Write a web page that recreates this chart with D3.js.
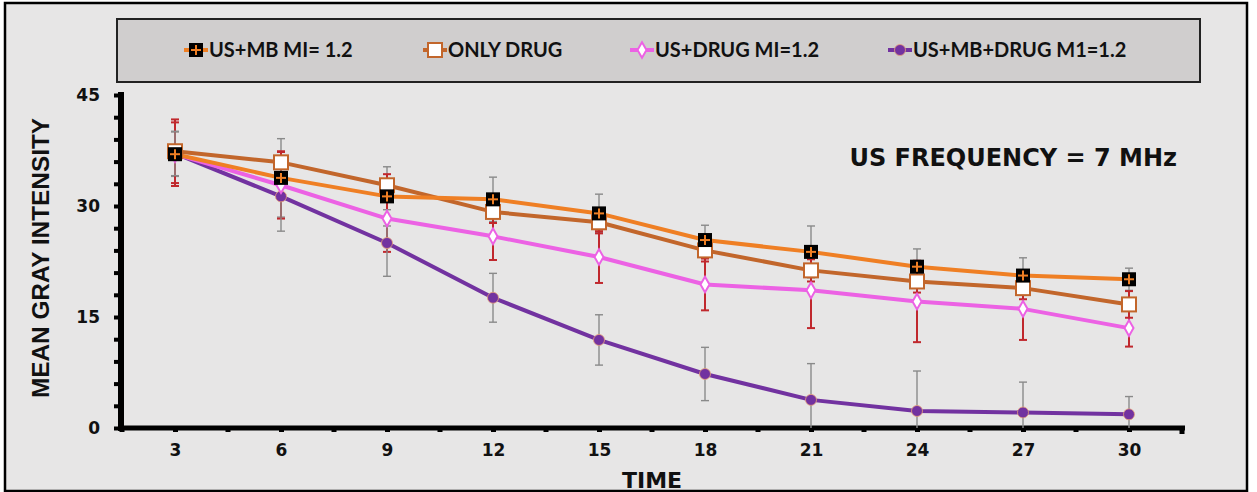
<!DOCTYPE html>
<html>
<head>
<meta charset="utf-8">
<script src="https://cdn.jsdelivr.net/npm/d3@7"></script>
<style>
  body { margin: 0; background: #fff; }
  svg { display: block; }
</style>
</head>
<body>
<svg id="chart" width="1257" height="492"></svg>
<script>
// time points (x categories)
var times = [3, 6, 9, 12, 15, 18, 21, 24, 27, 30];

// series means
var usMb     = [37.0, 33.8, 31.3, 30.9, 29.0, 25.4, 23.8, 21.8, 20.6, 20.1];
var onlyDrug = [37.4, 35.9, 32.8, 29.2, 27.8, 24.0, 21.3, 19.8, 18.9, 16.7];
var usDrug   = [37.0, 32.8, 28.3, 25.9, 23.1, 19.4, 18.6, 17.1, 16.1, 13.5];
var usMbDrug = [37.1, 31.3, 25.0, 17.6, 11.9, 7.3, 3.8, 2.3, 2.1, 1.85];

// error bar half widths
var usMbErr     = [3.0, 5.3, 4.0, 3.0, 2.6, 2.0, 3.5, 2.4, 2.4, 1.5];
var onlyDrugErr = [4.3, 1.5, 1.5, 1.5, 1.5, 1.5, 1.5, 1.5, 1.5, 1.8];
var usDrugErr   = [4.3, 4.5, 4.5, 3.2, 3.5, 3.5, 5.1, 5.5, 4.2, 2.5];
var usMbDrugErr = [3.0, 4.7, 4.5, 3.3, 3.4, 3.6, 4.9, 5.4, 4.1, 2.4];

var seriesNames = ['US+MB MI= 1.2', 'ONLY DRUG', 'US+DRUG MI=1.2', 'US+MB+DRUG M1=1.2'];
var yTicks = [0, 15, 30, 45];

var svg = d3.select('#chart');

var series = [
  {name: seriesNames[0], vals: usMb, err: usMbErr, color: '#EF7F24', errColor: '#8a8a8a', mark: 'plus'},
  {name: seriesNames[1], vals: onlyDrug, err: onlyDrugErr, color: '#C2662B', errColor: '#c0282d', mark: 'square'},
  {name: seriesNames[2], vals: usDrug, err: usDrugErr, color: '#EC62E4', errColor: '#c0282d', mark: 'diamond'},
  {name: seriesNames[3], vals: usMbDrug, err: usMbDrugErr, color: '#7232A0', errColor: '#8a8a8a', mark: 'circle'}
];

var xs = d3.scaleBand().domain(times).range([122, 1182]).padding(0);
var bw = xs.bandwidth();
var cx = function(t) { return xs(t) + bw / 2; };
var ys = d3.scaleLinear().domain([0, 45]).range([428, 95]);

// frame + background
svg.append('rect').attr('x', 5).attr('y', 3).attr('width', 1242).attr('height', 488)
  .attr('fill', '#E7E6E6').attr('stroke', '#000').attr('stroke-width', 2.5);

// legend box
svg.append('rect').attr('x', 117).attr('y', 19).attr('width', 1083).attr('height', 63)
  .attr('fill', '#D0CECE').attr('stroke', '#222').attr('stroke-width', 2);

function drawMarker(g, type, color, x, y) {
  if (type == 'plus') {
    g.append('rect').attr('x', x - 7).attr('y', y - 7).attr('width', 14).attr('height', 14).attr('fill', '#000');
    g.append('line').attr('x1', x - 5).attr('x2', x + 5).attr('y1', y).attr('y2', y).attr('stroke', color).attr('stroke-width', 2);
    g.append('line').attr('x1', x).attr('x2', x).attr('y1', y - 5).attr('y2', y + 5).attr('stroke', color).attr('stroke-width', 2);
  } else if (type == 'square') {
    g.append('rect').attr('x', x - 7).attr('y', y - 7).attr('width', 14).attr('height', 14)
      .attr('fill', '#fff').attr('stroke', color).attr('stroke-width', 2);
  } else if (type == 'diamond') {
    g.append('path').attr('d', d3.symbol().type(d3.symbolDiamond).size(70)())
      .attr('transform', 'translate(' + x + ',' + y + ')')
      .attr('fill', '#fff').attr('stroke', color).attr('stroke-width', 2);
  } else {
    g.append('circle').attr('cx', x).attr('cy', y).attr('r', 5.5)
      .attr('fill', color).attr('stroke', '#e9a27a').attr('stroke-width', 0.8);
  }
}

// legend entries
var legX = [196, 435, 642, 900];
series.forEach(function(s, i) {
  var g = svg.append('g');
  g.append('line').attr('x1', legX[i] - 12).attr('x2', legX[i] + 12).attr('y1', 50).attr('y2', 50)
    .attr('stroke', s.color).attr('stroke-width', 4);
  drawMarker(g, s.mark, s.color, legX[i], 50);
  g.append('text').attr('x', legX[i] + 13).attr('y', 57)
    .attr('font-family', 'Lato, sans-serif').attr('font-weight', 'bold').attr('font-size', 20)
    .attr('fill', '#111').text(s.name);
});

// y axis
var yAxis = svg.append('g').attr('transform', 'translate(121,0)')
  .call(d3.axisLeft(ys).tickValues(d3.range(0, 46, 3)).tickSize(7).tickSizeOuter(0)
    .tickFormat(function(d) { return yTicks.indexOf(d) >= 0 ? d : ''; }));
yAxis.select('.domain').attr('stroke', '#000').attr('stroke-width', 6).attr('d', 'M0,92V431');
yAxis.selectAll('.tick line').attr('stroke', '#000').attr('stroke-width', 4);
yAxis.selectAll('.tick text').attr('x', -21).attr('font-family', 'DejaVu Sans, sans-serif')
  .attr('font-weight', 'bold').attr('font-size', 17).attr('fill', '#111');

// x axis
var xAxis = svg.append('g').attr('transform', 'translate(0,428)')
  .call(d3.axisBottom(d3.scalePoint().domain(times).range([cx(3), cx(30)])).tickSize(4).tickSizeOuter(0));
xAxis.select('.domain').attr('stroke', '#000').attr('stroke-width', 5).attr('d', 'M118,0H1185');
xAxis.selectAll('.tick line').attr('stroke', '#000').attr('stroke-width', 5);
xAxis.selectAll('.tick text').attr('y', 16).attr('font-family', 'DejaVu Sans, sans-serif')
  .attr('font-weight', 'bold').attr('font-size', 17).attr('fill', '#111');
// minor ticks at band edges
xAxis.selectAll('.edge').data(times.concat(['end'])).enter().append('line')
  .attr('x1', function(d) { return d == 'end' ? 1182 : xs(d); })
  .attr('x2', function(d) { return d == 'end' ? 1182 : xs(d); })
  .attr('y1', 0).attr('y2', function(d) { return d == 'end' ? 6 : 4; })
  .attr('stroke', '#000').attr('stroke-width', 5);

// axis titles
svg.append('text').attr('transform', 'translate(49,258) rotate(-90)')
  .attr('text-anchor', 'middle').attr('font-family', 'Liberation Sans Narrow, Liberation Sans, sans-serif')
  .attr('font-weight', 'bold').attr('font-size', 24).attr('textLength', 280).attr('lengthAdjust', 'spacingAndGlyphs')
  .attr('fill', '#111').text('MEAN GRAY INTENSITY');
svg.append('text').attr('x', 652).attr('y', 488).attr('text-anchor', 'middle')
  .attr('font-family', 'DejaVu Sans, sans-serif').attr('font-weight', 'bold').attr('font-size', 22)
  .attr('fill', '#111').text('TIME');

svg.append('text').attr('x', 1177).attr('y', 166).attr('text-anchor', 'end')
  .attr('font-family', 'DejaVu Sans, sans-serif').attr('font-weight', 'bold').attr('font-size', 24)
  .attr('fill', '#111').text('US FREQUENCY = 7 MHz');

// error bars
series.forEach(function(s) {
  var g = svg.append('g');
  var wide = s.errColor == '#c0282d' ? 2 : 1.4;
  s.vals.forEach(function(v, i) {
    var x = cx(times[i]);
    var hi = ys(v + s.err[i]), lo = ys(Math.max(0, v - s.err[i]));
    g.append('line').attr('x1', x).attr('x2', x).attr('y1', hi).attr('y2', lo)
      .attr('stroke', s.errColor).attr('stroke-width', wide);
    [hi, lo].forEach(function(yy) {
      if (yy < 427) g.append('line').attr('x1', x - 4).attr('x2', x + 4).attr('y1', yy).attr('y2', yy)
        .attr('stroke', s.errColor).attr('stroke-width', wide);
    });
  });
});

// lines and markers
var line = d3.line().x(function(d, i) { return cx(times[i]); }).y(function(d) { return ys(d); });
series.slice().reverse().forEach(function(s) {
  svg.append('path').attr('d', line(s.vals)).attr('fill', 'none')
    .attr('stroke', s.color).attr('stroke-width', 4).attr('stroke-linejoin', 'round');
});
series.slice().reverse().forEach(function(s) {
  var g = svg.append('g');
  s.vals.forEach(function(v, i) { drawMarker(g, s.mark, s.color, cx(times[i]), ys(v)); });
});
</script>
</body>
</html>
